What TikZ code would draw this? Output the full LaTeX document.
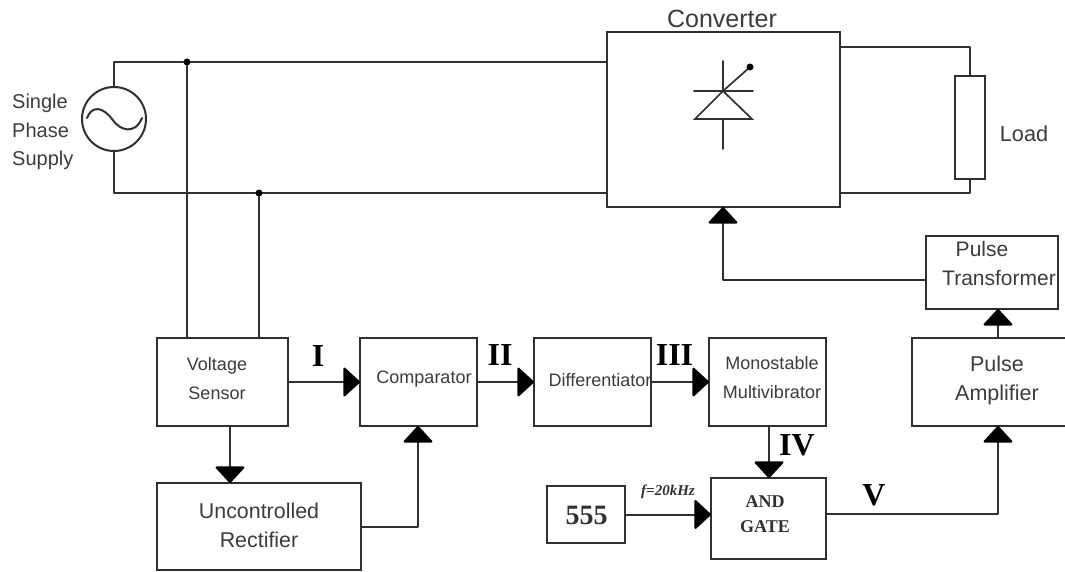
\documentclass[tikz,border=0pt]{standalone}
\usepackage{fontspec}
\setmainfont{Liberation Sans}
\newfontfamily\serifb{Liberation Serif}
\usetikzlibrary{arrows.meta}
\definecolor{ink}{HTML}{303030}
\definecolor{txt}{HTML}{3C3C3C}
\tikzset{
 wire/.style={draw=ink,line width=2pt,line cap=round,line join=round},
 flow/.style={wire,-{Triangle[black,width=31pt,length=17pt,round=false]}},
 blk/.style={draw=ink,line width=2pt,fill=white,inner sep=0pt,outer sep=0pt},
 dotn/.style={circle,fill=black,inner sep=0pt,outer sep=0pt,minimum size=7pt},
 lab/.style={inner sep=0pt,text=txt,align=center},
 labs/.style={lab,font=\fontsize{18}{28.5}\selectfont},
 labm/.style={lab,font=\fontsize{21}{29}\selectfont},
 rom/.style={inner sep=0pt,text=black,font=\serifb\bfseries\fontsize{32}{32}\selectfont},
 ser/.style={inner sep=0pt,text=ink,align=center,font=\serifb\bfseries\fontsize{18}{24.5}\selectfont}
}
\begin{document}
\begin{tikzpicture}[x=1pt,y=-1pt]
\useasboundingbox (0,0) rectangle (1065,571);
\clip (0,0) rectangle (1065,571);
\fill[white] (0,0) rectangle (1065,571);
% blocks
\node[blk,minimum width=233pt,minimum height=175pt] (conv) at (723.5,119.5) {};
\node[blk,minimum width=30pt,minimum height=103pt] (load) at (970,127.5) {};
\node[blk,minimum width=132pt,minimum height=73pt] (pt) at (992,272.5) {};
\node[blk,minimum width=160pt,minimum height=88pt] (pa) at (992,382) {};
\node[blk,minimum width=131pt,minimum height=88pt] (vs) at (222.5,382) {};
\node[blk,minimum width=117pt,minimum height=88pt] (cmp) at (418.5,382) {};
\node[blk,minimum width=117pt,minimum height=88pt] (dif) at (592.5,382) {};
\node[blk,minimum width=117pt,minimum height=88pt] (mono) at (767.5,382) {};
\node[blk,minimum width=204pt,minimum height=87pt] (rect) at (259,526.5) {};
\node[blk,minimum width=78pt,minimum height=57pt] (t555) at (586,514.5) {};
\node[blk,minimum width=115pt,minimum height=81pt] (and) at (768.5,518.5) {};
\node[circle,draw=ink,line width=2pt,inner sep=0pt,minimum size=64pt,outer sep=0pt] (src) at (114,119) {};
% source wave
\draw[ink,line width=2pt,line cap=round] (87,118) .. controls (92,105) and (103,107) .. (112,119) .. controls (120,131) and (135,135) .. (142,118);
% supply rails
\coordinate (ct) at (conv.west |- 0,62);
\coordinate (cb) at (conv.west |- 0,193);
\coordinate (dt) at (187,62);
\coordinate (db) at (259,193);
\draw[wire] (src.north) -- (src.north |- ct) -- (ct);
\draw[wire] (src.south) -- (src.south |- cb) -- (cb);
\node[dotn] (d1) at (dt) {};
\node[dotn] (d2) at (db) {};
\draw[wire] (d1) -- (d1 |- vs.north);
\draw[wire] (d2) -- (d2 |- vs.north);
% load
\coordinate (ot) at (conv.east |- 0,47);
\coordinate (ob) at (conv.east |- 0,193);
\draw[wire] (ot) -- (ot -| load.north) -- (load.north);
\draw[wire] (ob) -- (ob -| load.south) -- (load.south);
% thyristor
\coordinate (tb) at (723,91);
\draw[wire,line width=1.7pt] (723,61) -- (723,91);
\draw[wire,line width=1.7pt] (694,91) -- (753,91);
\draw[wire,line width=1.7pt,line join=miter] (723,91) -- (695,119) -- (752,119) -- cycle;
\draw[wire,line width=1.7pt] (723,119) -- (723,149);
\draw[wire,line width=1.7pt] (tb) -- (750,67);
\node[dotn] (gate) at (750,67) {};
% connectors
\draw[flow] (pt.west |- 0,280) -| (conv.south -| 723,0);
\draw[flow] (vs.east) -- (cmp.west);
\draw[flow] (cmp.east) -- (dif.west);
\draw[flow] (dif.east) -- (mono.west);
\draw[flow] (vs.south -| 230,0) -- (rect.north -| 230,0);
\draw[flow] (rect.east |- 0,527) -| (cmp.south -| 418,0);
\draw[flow] (mono.south -| 769,0) -- (and.north -| 769,0);
\draw[flow] (t555.east) -- (and.west |- t555.east);
\draw[flow] (and.east |- 0,514) -| (pa.south -| 998,0);
\draw[flow] (pa.north -| 998,0) -- (pt.south -| 998,0);
% text
\node[lab,font=\fontsize{25}{25}\selectfont] (tconv) at (722,19) {Converter};
\node[lab,anchor=west,font=\fontsize{20}{28.5}\selectfont,align=left] (tsup) at (12,132) {Single\\Phase\\Supply};
\node[lab,font=\fontsize{21.7}{22}\selectfont] (tload) at (1024,134) {Load};
\node[labm] (tp1) at (982,249) {Pulse};
\node[labm] (tp2) at (999,278) {Transformer};
\node[labm,font=\fontsize{21.5}{29}\selectfont] (tpa) at (997,380.5) {Pulse\\Amplifier};
\node[labs] (tvs) at (217,378.5) {Voltage\\Sensor};
\node[labs] (tcmp) at (424,379) {Comparator};
\node[labs] (tdif) at (600,380) {Differentiator};
\node[labs] (tmono) at (772,377.5) {Monostable\\Multivibrator};
\node[labm,font=\fontsize{21.4}{29}\selectfont] (trect) at (259,525.5) {Uncontrolled\\Rectifier};
\node[rom] (r1) at (318,356) {I};
\node[rom] (r2) at (500,355) {II};
\node[rom] (r3) at (674.5,355) {III};
\node[rom] (r4) at (797,445) {IV};
\node[rom] (r5) at (874,495) {V};
\node[inner sep=0pt,text=ink,font=\serifb\bfseries\fontsize{28}{28}\selectfont] (t5) at (586.5,515) {555};
\node[ser] (tand) at (765,514) {AND\\GATE};
\node[inner sep=0pt,text=ink,font=\serifb\bfseries\itshape\fontsize{15}{15}\selectfont] (tf) at (668,492) {f=20kHz};
\end{tikzpicture}
\end{document}
